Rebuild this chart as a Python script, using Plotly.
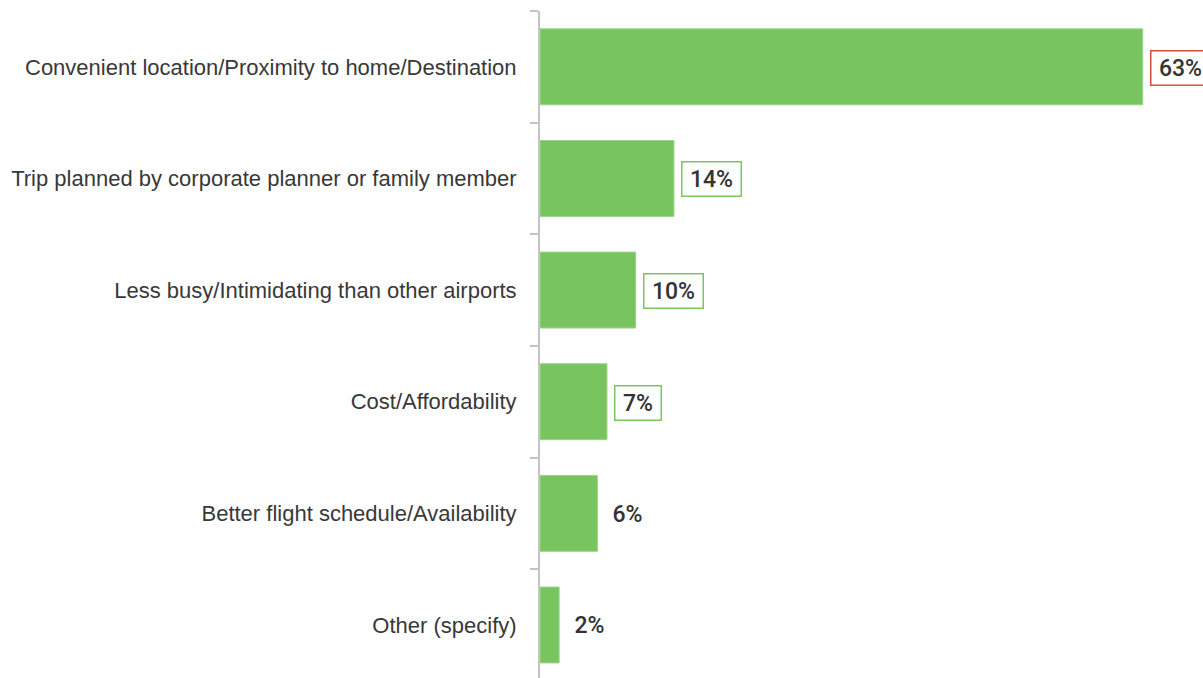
import plotly.graph_objects as go

categories = [
    "Convenient location/Proximity to home/Destination",
    "Trip planned by corporate planner or family member",
    "Less busy/Intimidating than other airports",
    "Cost/Affordability",
    "Better flight schedule/Availability",
    "Other (specify)",
]
values = [63, 14, 10, 7, 6, 2]
label_borders = ["#d0503c", "#7cc464", "#7cc464", "#7cc464", None, None]

BAR_GREEN = "#78c45e"
AXIS_GREY = "#c4c4c4"
TEXT_DARK = "#333333"
LABEL_FONT = "Liberation Sans Narrow, Arial Narrow, Liberation Sans, sans-serif"
VALUE_FONT = "Roboto, Liberation Sans, sans-serif"

fig = go.Figure(
    go.Bar(
        y=categories,
        x=values,
        orientation="h",
        width=0.68,
        marker=dict(color=BAR_GREEN, line=dict(width=1, color="#9ad488")),
        hoverinfo="skip",
    )
)

for cat, val, border in zip(categories, values, label_borders):
    text = f"{val}%"
    ann = dict(
        x=val,
        y=cat,
        xref="x",
        yref="y",
        text=text,
        showarrow=False,
        xanchor="left",
        yanchor="middle",
        xshift=7,
        yshift=-1,
        width=13 * len(text) + 13,
        align="center",
        font=dict(family=VALUE_FONT, size=23, color=TEXT_DARK, weight=500),
        borderpad=3,
    )
    if border:
        ann.update(bordercolor=border, borderwidth=1.5, bgcolor="white")
    fig.add_annotation(**ann)

fig.update_layout(
    width=1203,
    height=678,
    margin=dict(l=540, r=0, t=11, b=0, autoexpand=False),
    paper_bgcolor="white",
    plot_bgcolor="white",
    showlegend=False,
)

fig.update_xaxes(
    range=[0, 69.3],
    visible=False,
    showgrid=False,
    zeroline=False,
)

fig.update_yaxes(
    type="category",
    range=[5.475, -0.5],
    tickson="boundaries",
    ticks="outside",
    ticklen=8,
    tickwidth=1.5,
    tickcolor=AXIS_GREY,
    showline=True,
    linecolor=AXIS_GREY,
    linewidth=2,
    showgrid=False,
    zeroline=False,
    automargin=False,
    ticklabelstandoff=17,
    tickfont=dict(family=LABEL_FONT, size=22, color="#383838"),
)

fig.write_html("out.html")
